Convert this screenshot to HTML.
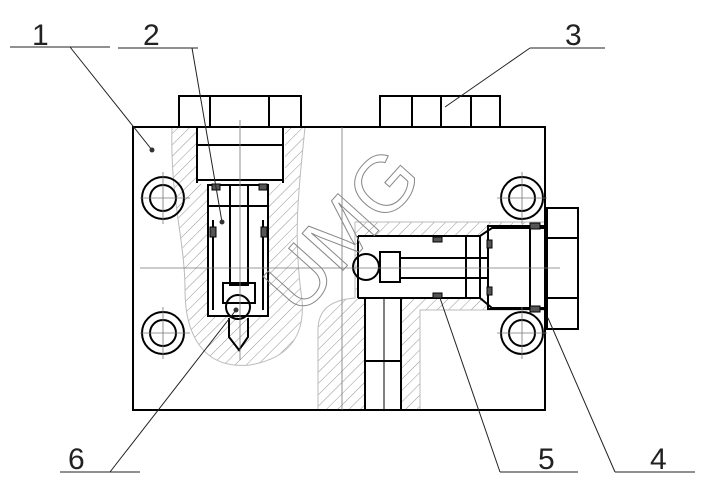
<!DOCTYPE html>
<html><head><meta charset="utf-8"><style>html,body{margin:0;padding:0;background:#fff}svg{display:block}</style></head><body>
<svg width="712" height="490" viewBox="0 0 712 490" xmlns="http://www.w3.org/2000/svg">
<defs>
<pattern id="h" patternUnits="userSpaceOnUse" width="8" height="8" patternTransform="rotate(45)">
<line x1="0" y1="0" x2="0" y2="8" stroke="#888" stroke-width="0.9"/>
</pattern>
</defs>
<rect width="712" height="490" fill="#fff"/>
<path d="M172,127 L305,127 C300,180 292,230 302,300 C305,335 290,358 250,365 C200,370 185,330 185,290 C185,240 170,200 172,127 Z" fill="url(#h)" stroke="#bbb" stroke-width="1"/>
<path d="M318,410 L318,330 C318,310 330,300 355,298 L355,222 L545,222 L545,310 L420,310 L420,410 Z" fill="url(#h)" stroke="#bbb" stroke-width="1"/>
<path d="M197,127 L285,127 L285,183 L268,185 L268,316 L208,316 L208,185 L197,183 Z" fill="#fff"/>
<rect x="358" y="236" width="130" height="62" fill="#fff"/>
<rect x="488" y="225" width="57" height="85" fill="#fff"/>
<rect x="365" y="297" width="37" height="113" fill="#fff"/>
<g fill="none" stroke="#000" stroke-width="2">
<rect x="133" y="127" width="412" height="283"/>
<rect x="179" y="96" width="122" height="31"/>
<line x1="210" y1="96" x2="210" y2="127"/><line x1="269" y1="96" x2="269" y2="127"/>
<rect x="380" y="96" width="120" height="31"/>
<line x1="412" y1="96" x2="412" y2="127"/><line x1="441" y1="96" x2="441" y2="127"/><line x1="471" y1="96" x2="471" y2="127"/>
<rect x="547" y="208" width="31" height="121"/>
<line x1="547" y1="238" x2="578" y2="238"/><line x1="547" y1="298" x2="578" y2="298"/>
<circle cx="163" cy="198" r="21"/><circle cx="163" cy="198" r="13"/>
<circle cx="163" cy="333" r="21"/><circle cx="163" cy="333" r="13"/>
<circle cx="522" cy="198" r="21"/><circle cx="522" cy="198" r="13"/>
<circle cx="522" cy="333" r="21"/><circle cx="522" cy="333" r="13"/>
<rect x="197" y="145" width="86" height="35"/>
<path d="M197,127 L197,183 M283,127 L283,183"/>
<rect x="208" y="185" width="60" height="131"/>
<line x1="208" y1="206" x2="268" y2="206"/>
<rect x="230" y="185" width="18" height="100"/>
<rect x="223" y="283" width="32" height="20"/>
<line x1="213" y1="220" x2="213" y2="310"/><line x1="263" y1="220" x2="263" y2="310"/>
<circle cx="238" cy="307" r="12"/>
<path d="M229,318 L229,337 L239,350 L248,337 L248,318"/>
<path d="M358,236 L480,236 L492,228 L545,228 M358,298 L480,298 L492,308 L545,308"/>
<line x1="358" y1="236" x2="358" y2="298"/>
<rect x="380" y="252" width="20" height="30"/>
<line x1="400" y1="258" x2="488" y2="258"/><line x1="400" y1="278" x2="488" y2="278"/>
<line x1="466" y1="236" x2="466" y2="298"/><line x1="480" y1="236" x2="480" y2="298"/>
<rect x="488" y="226" width="57" height="83"/>
<line x1="530" y1="226" x2="530" y2="309"/>
<circle cx="366" cy="267" r="13"/>
<path d="M365,298 L365,410 M401,298 L401,410 M365,361 L401,361"/>
<line x1="384" y1="298" x2="384" y2="410" stroke-width="1"/>
</g>
<g fill="#555" stroke="#000">
<rect x="212" y="184" width="8" height="6"/><rect x="259" y="184" width="8" height="6"/>
<rect x="210" y="227" width="6" height="10"/><rect x="261" y="227" width="6" height="10"/>
<rect x="433" y="237" width="9" height="5"/><rect x="433" y="293" width="9" height="5"/>
<rect x="487" y="240" width="5" height="8"/><rect x="487" y="287" width="5" height="8"/>
<rect x="530" y="223" width="10" height="6"/><rect x="530" y="306" width="10" height="6"/>
</g>
<g stroke="#777" stroke-width="0.8">
<line x1="140" y1="268" x2="560" y2="268"/>
<line x1="342" y1="127" x2="342" y2="410"/>
<line x1="240" y1="120" x2="240" y2="360"/>
<line x1="140" y1="198" x2="190" y2="198"/><line x1="163" y1="172" x2="163" y2="224"/>
<line x1="140" y1="333" x2="190" y2="333"/><line x1="163" y1="307" x2="163" y2="359"/>
<line x1="497" y1="198" x2="547" y2="198"/><line x1="522" y1="172" x2="522" y2="224"/>
<line x1="497" y1="333" x2="547" y2="333"/><line x1="522" y1="307" x2="522" y2="359"/>
</g>
<text x="0" y="0" transform="translate(300,318) rotate(-48)" font-family="Liberation Sans, sans-serif" font-size="80" fill="none" stroke="#888" stroke-width="1">UMG</text>
<g stroke="#222" stroke-width="1" fill="none">
<path d="M10,47 L110,47 M70,47 L152,150"/>
<path d="M118,48 L198,48 M192,48 L222,222"/>
<path d="M530,48 L605,48 M530,48 L445,107"/>
<path d="M615,472 L695,472 M615,472 L548,318"/>
<path d="M500,472 L578,472 M500,472 L440,298"/>
<path d="M60,472 L140,472 M110,472 L236,310"/>
</g>
<g fill="#333"><circle cx="152" cy="150" r="2.5"/><circle cx="222" cy="222" r="2.5"/><circle cx="236" cy="310" r="2.5"/></g>
<g font-family="Liberation Sans, sans-serif" font-size="30" fill="#222">
<text x="32" y="45">1</text><text x="143" y="45">2</text><text x="565" y="45">3</text>
<text x="650" y="469">4</text><text x="538" y="469">5</text><text x="68" y="469">6</text>
</g>
</svg>
</body></html>
